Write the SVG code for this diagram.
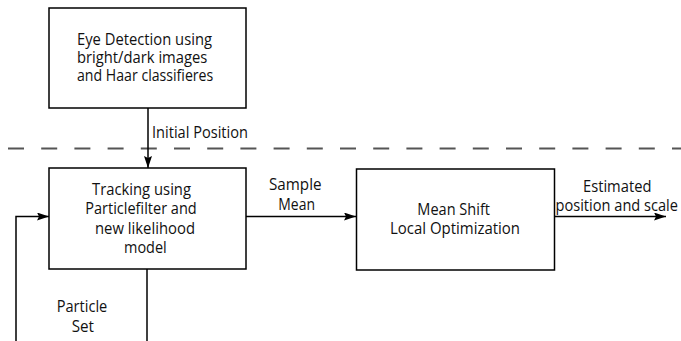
<svg xmlns="http://www.w3.org/2000/svg" width="681" height="341" viewBox="0 0 681 341">
<defs>
<marker id="arr" markerWidth="12" markerHeight="8" refX="12" refY="4" orient="auto" markerUnits="userSpaceOnUse">
<path d="M0,0 L12,4 L0,8 L2,4 Z" fill="#000"/>
</marker>
<style>
.box{fill:#fff;stroke:#000;stroke-width:1.5}
.t{font-family:"Open Sans","Liberation Sans",sans-serif;font-size:15.5px;fill:#111}
.ln{fill:none;stroke:#000;stroke-width:1.5}
.dash{stroke:#555;stroke-width:2;stroke-dasharray:16 17.2}
</style>
</defs>
<rect width="681" height="341" fill="#fff"/>
<line class="dash" x1="8" y1="148.5" x2="681" y2="148.5"/>
<g id="connectors">
<line class="ln" x1="148" y1="108" x2="148" y2="168" marker-end="url(#arr)"/>
<line class="ln" x1="246" y1="216.5" x2="356" y2="216.5" marker-end="url(#arr)"/>
<line class="ln" x1="554" y1="216.5" x2="666" y2="216.5" marker-end="url(#arr)"/>
<polyline class="ln" points="147,269 147,341"/>
<polyline class="ln" points="16,341 16,216.5 49,216.5" marker-end="url(#arr)"/>
<text class="t" x="152" y="138" textLength="96" lengthAdjust="spacingAndGlyphs">Initial Position</text>
<text class="t" x="269" y="190" textLength="52.5" lengthAdjust="spacingAndGlyphs">Sample</text>
<text class="t" x="278.3" y="210" textLength="36.7" lengthAdjust="spacingAndGlyphs">Mean</text>
<text class="t" x="583" y="192" textLength="68.4" lengthAdjust="spacingAndGlyphs">Estimated</text>
<text class="t" x="555.5" y="211" textLength="122.5" lengthAdjust="spacingAndGlyphs">position and scale</text>
<text class="t" x="56.7" y="312" textLength="50.6" lengthAdjust="spacingAndGlyphs">Particle</text>
<text class="t" x="71.7" y="331.5" textLength="22.3" lengthAdjust="spacingAndGlyphs">Set</text>
</g>
<g id="eye-detection">
<rect class="box" x="49" y="8" width="197" height="100"/>
<text class="t" x="77" y="44.5" textLength="135" lengthAdjust="spacingAndGlyphs">Eye Detection using</text>
<text class="t" x="77" y="62.5" textLength="130.3" lengthAdjust="spacingAndGlyphs">bright/dark images</text>
<text class="t" x="77" y="80.5" textLength="136.3" lengthAdjust="spacingAndGlyphs">and Haar classifieres</text>
</g>
<g id="tracking">
<rect class="box" x="49" y="168" width="197" height="101"/>
<text class="t" x="92" y="195" textLength="99" lengthAdjust="spacingAndGlyphs">Tracking using</text>
<text class="t" x="85.3" y="214.3" textLength="111.4" lengthAdjust="spacingAndGlyphs">Particlefilter and</text>
<text class="t" x="95" y="233.7" textLength="100" lengthAdjust="spacingAndGlyphs">new likelihood</text>
<text class="t" x="124" y="252.7" textLength="42.7" lengthAdjust="spacingAndGlyphs">model</text>
</g>
<g id="mean-shift">
<rect class="box" x="356.5" y="169" width="198" height="101"/>
<text class="t" x="417.3" y="215" textLength="72.7" lengthAdjust="spacingAndGlyphs">Mean Shift</text>
<text class="t" x="390" y="234" textLength="130" lengthAdjust="spacingAndGlyphs">Local Optimization</text>
</g>
</svg>
